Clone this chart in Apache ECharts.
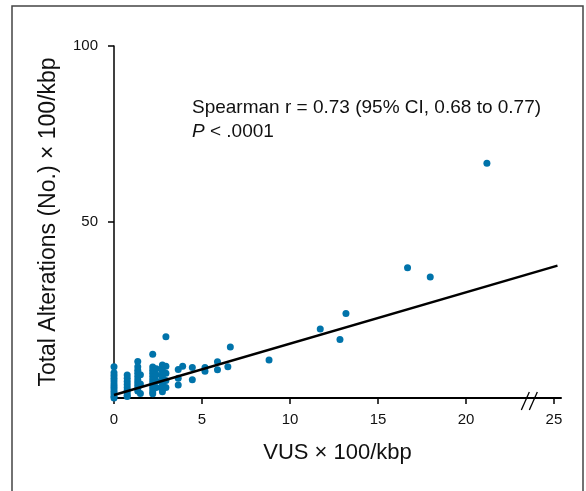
<!DOCTYPE html>
<head>
    <meta charset="utf-8">
    <title>ECharts</title>
</head>
<body style="margin:0">
    <div id="main" style="width:586px;height:491px"></div>
    <script src="https://cdn.jsdelivr.net/npm/echarts@6/dist/echarts.min.js"></script>
    <script type="text/javascript">
var myChart = echarts.init(document.getElementById('main'));

// VUS x 100/kbp
var vus = [
    0, 0, 0, 0, 0, 0, 0, 0, 0, 0, 0, 0,
    0.75, 0.75, 0.75, 0.75, 0.75, 0.75, 0.75, 0.75, 0.75,
    1.35, 1.35, 1.35, 1.35, 1.35, 1.35, 1.35, 1.35, 1.35, 1.35, 1.5, 1.5, 1.5,
    2.2, 2.2, 2.2, 2.2, 2.2, 2.2, 2.2, 2.2, 2.2, 2.2, 2.2,
    2.4, 2.4, 2.4, 2.4,
    2.75, 2.75, 2.75, 2.75, 2.75, 2.75, 2.75, 2.75, 2.75, 2.75,
    2.95, 2.95, 2.95, 2.95, 2.95,
    3.65, 3.65, 3.65, 3.9,
    4.45, 4.45, 5.17, 5.17, 5.88, 5.88, 6.47, 6.61, 8.81,
    11.72, 12.84, 13.18, 16.68, 17.97, 21.19
];
// Total alterations x 100/kbp
var alterations = [
    8.9, 7.2, 6.4, 5.6, 4.8, 4.0, 3.3, 2.6, 1.9, 1.2, 0.5, 0,
    6.5, 5.6, 4.7, 3.8, 3.0, 2.2, 1.5, 0.8, 0.4,
    10.4, 8.9, 7.9, 7.0, 6.1, 5.2, 4.4, 3.6, 2.8, 2.0, 6.6, 4.0, 1.3,
    12.4, 8.8, 7.9, 7.0, 6.1, 5.2, 4.3, 3.4, 2.6, 1.8, 1.2,
    8.3, 6.6, 4.8, 3.0,
    9.4, 8.5, 7.6, 6.7, 5.8, 4.9, 4.1, 3.3, 2.5, 1.8,
    17.4, 9.0, 7.0, 5.0, 3.0,
    8.1, 5.6, 3.7, 9.0,
    8.7, 5.2, 8.7, 7.6, 10.3, 8.0, 8.9, 14.5, 10.8,
    19.6, 16.6, 24.0, 37.0, 34.4, 66.7
];
// fitted line end points
var fitX = [0, 25.2];
var fitY = [0.85, 37.6];

var xTicks = [0, 5, 10, 15, 20, 25];
var yTicks = [50, 100];
var breakAt = [23.6];

var font = '"Liberation Sans", Arial, sans-serif';
var points = vus.map(function (v, i) { return [v, alterations[i]]; });

myChart.setOption({
    animation: false,
    grid: { left: 114, right: 25, top: 46, bottom: 93 },
    xAxis: {
        type: 'value', min: 0, max: 25.4,
        name: 'VUS × 100/kbp', nameLocation: 'middle', nameGap: 44,
        nameTextStyle: { fontSize: 22, color: '#111', fontFamily: font },
        axisLine: { lineStyle: { color: '#000', width: 2 } },
        axisTick: { customValues: xTicks, length: 6, lineStyle: { color: '#000', width: 1.5 } },
        axisLabel: { customValues: xTicks, fontSize: 15, color: '#111', margin: 14, fontFamily: font },
        splitLine: { show: false }
    },
    yAxis: {
        type: 'value', min: 0, max: 100,
        name: 'Total Alterations (No.) × 100/kbp', nameLocation: 'middle', nameGap: 54,
        nameTextStyle: { fontSize: 23, color: '#111', fontFamily: font },
        axisLine: { show: true, lineStyle: { color: '#000', width: 1.5 } },
        axisTick: { show: true, customValues: yTicks, length: 6, lineStyle: { color: '#000', width: 1.5 } },
        axisLabel: { customValues: yTicks, fontSize: 15, color: '#111', margin: 16, fontFamily: font },
        splitLine: { show: false }
    },
    graphic: [
        {
            type: 'rect', silent: true,
            shape: { x: 12, y: 6, width: 571, height: 500 },
            style: { fill: 'none', stroke: '#444', lineWidth: 1.5 }
        },
        {
            type: 'text', left: 192, top: 96,
            style: {
                text: 'Spearman r = 0.73 (95% CI, 0.68 to 0.77)\n{i|P} < .0001',
                fontSize: 19, fontFamily: font, fill: '#111', lineHeight: 24,
                rich: { i: { fontStyle: 'italic', fontSize: 19, fontFamily: font, fill: '#111' } }
            }
        }
    ],
    series: [
        {
            type: 'scatter', data: points, symbolSize: 7, clip: false,
            itemStyle: { color: '#0073aa', opacity: 1 }
        },
        {
            type: 'line', data: [[fitX[0], fitY[0]], [fitX[1], fitY[1]]],
            showSymbol: false, clip: false, z: 3,
            lineStyle: { color: '#000', width: 2.5 }
        },
        {
            type: 'custom', clip: false, z: 4,
            data: breakAt.map(function (b) { return [b, 0]; }),
            renderItem: function (params, api) {
                var p = api.coord([api.value(0), api.value(1)]);
                var st = { stroke: '#000', lineWidth: 1.3 };
                return {
                    type: 'group',
                    children: [
                        { type: 'line', shape: { x1: p[0] - 8, y1: p[1] + 12, x2: p[0], y2: p[1] - 6 }, style: st },
                        { type: 'line', shape: { x1: p[0], y1: p[1] + 12, x2: p[0] + 8, y2: p[1] - 6 }, style: st }
                    ]
                };
            }
        }
    ]
});
    </script>
</body>
